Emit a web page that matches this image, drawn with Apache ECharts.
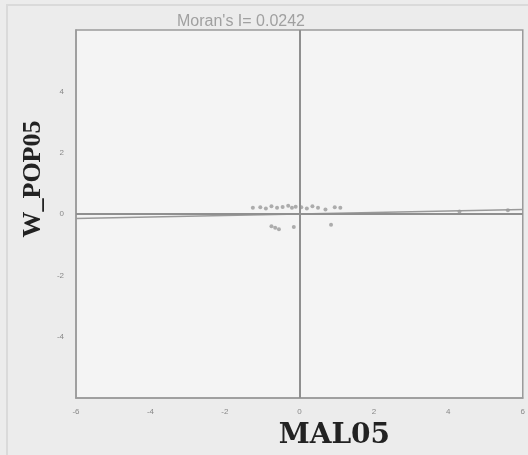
<!DOCTYPE html>
<html><head><meta charset="utf-8">
<script src="https://cdn.jsdelivr.net/npm/echarts@6/dist/echarts.min.js"></script>
<style>html,body{margin:0;padding:0;background:#ececec}#c{width:528px;height:455px}</style>
</head><body><div id="c"></div>
<script>
var titleText = "Moran's I= 0.0242";
var moranI = 0.0242;
var xName = 'MAL05';
var yName = 'W_POP05';
var xValues = [-1.25,-1.05,-0.9,-0.75,-0.6,-0.45,-0.3,-0.2,-0.1,0.05,0.2,0.35,0.5,0.7,0.95,1.1,-0.75,-0.65,-0.55,-0.15,0.85,4.3,5.6];
var yValues = [0.2,0.22,0.18,0.25,0.2,0.23,0.27,0.2,0.24,0.22,0.18,0.25,0.2,0.15,0.22,0.2,-0.4,-0.45,-0.5,-0.42,-0.35,0.08,0.12];
var axisMin = -6, axisMax = 6, axisStep = 2;

var pts = xValues.map(function(x,i){return [x,yValues[i]];});
var chart = echarts.init(document.getElementById('c'));
chart.setOption({
  backgroundColor:'#ececec',
  animation:false,
  title:{text:titleText,left:236,top:9,textAlign:'center',textStyle:{fontFamily:'Liberation Sans',fontSize:16,fontWeight:'normal',color:'#a0a0a0'}},
  grid:{left:76,right:4,top:30,bottom:55,show:true,backgroundColor:'#f4f4f4',borderColor:'#9a9a9a',borderWidth:1.5},
  graphic:[{type:'rect',shape:{x:7,y:5,width:530,height:460},style:{fill:'none',stroke:'#dadada',lineWidth:2},silent:true,z:-1}],
  xAxis:{type:'value',min:axisMin,max:axisMax,interval:axisStep,
    name:xName,nameLocation:'middle',nameGap:24,
    nameTextStyle:{fontFamily:'DejaVu Serif',fontWeight:'bold',fontSize:28,color:'#222',padding:[0,0,0,70]},
    axisLine:{show:true,onZero:false,lineStyle:{color:'#9a9a9a',width:1.5}},axisTick:{show:false},splitLine:{show:false},
    axisLabel:{fontSize:8,color:'#888',margin:10}},
  yAxis:{type:'value',min:axisMin,max:axisMax,interval:axisStep,
    name:yName,nameLocation:'middle',nameGap:30,
    nameTextStyle:{fontFamily:'Liberation Serif',fontWeight:'bold',fontSize:26,color:'#222',padding:[0,0,0,70]},
    axisLine:{show:true,onZero:false,lineStyle:{color:'#9a9a9a',width:1.5}},axisTick:{show:false},splitLine:{show:false},
    axisLabel:{fontSize:8,color:'#888',margin:12,showMinLabel:false,showMaxLabel:false}},
  series:[
    {type:'scatter',data:pts,symbolSize:4,itemStyle:{color:'#9a9a9a'},
     markLine:{silent:true,symbol:'none',label:{show:false},lineStyle:{color:'#8f8f8f',width:2,type:'solid'},
       data:[{xAxis:0},{yAxis:0}]}},
    {type:'line',data:[[axisMin,axisMin*moranI],[axisMax,axisMax*moranI]],symbol:'none',lineStyle:{color:'#999',width:1.5},silent:true}
  ]
});
</script></body></html>
